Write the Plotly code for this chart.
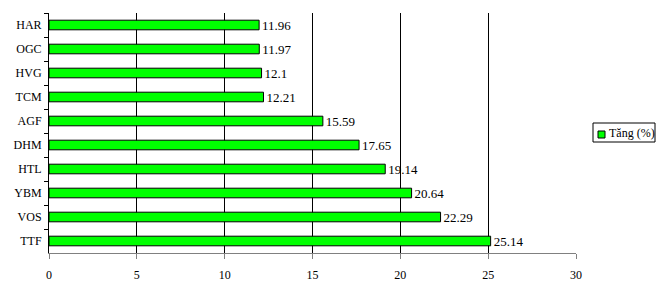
import plotly.graph_objects as go

categories = ["HAR", "OGC", "HVG", "TCM", "AGF", "DHM", "HTL", "YBM", "VOS", "TTF"]
values = [11.96, 11.97, 12.1, 12.21, 15.59, 17.65, 19.14, 20.64, 22.29, 25.14]
labels = ["11.96", "11.97", "12.1", "12.21", "15.59", "17.65", "19.14", "20.64", "22.29", "25.14"]
x_ticks = [0, 5, 10, 15, 20, 25, 30]
series_name = "Tăng (%)"
bar_color = "#00ff00"

L, R, T, B = 49, 84, 13, 30
W, H = 660, 283
pw, ph = W - L - R, H - T - B


def px(x):
    return (x - L) / pw


def py(y):
    return (H - B - y) / ph


fig = go.Figure()
fig.add_trace(go.Bar(
    y=categories, x=values, orientation="h", name=series_name,
    text=labels, textposition="outside", cliponaxis=False, constraintext="none",
    textfont=dict(family="Liberation Serif", size=13, color="black"),
    marker=dict(color=bar_color, line=dict(color="black", width=1)),
    width=0.4, showlegend=False,
))

# legend drawn manually to match compact box
fig.add_shape(type="rect", xref="paper", yref="paper",
              x0=px(593), x1=px(655), y0=py(142), y1=py(123),
              line=dict(color="black", width=1), fillcolor="white")
fig.add_shape(type="rect", xref="paper", yref="paper",
              x0=px(598), x1=px(605), y0=py(138), y1=py(131),
              line=dict(color="black", width=1), fillcolor=bar_color)
fig.add_annotation(xref="paper", yref="paper", x=px(607), y=py(132.5),
                   xanchor="left", yanchor="middle", text=series_name, showarrow=False,
                   font=dict(family="Liberation Serif", size=12, color="black"))

fig.update_layout(
    width=W, height=H,
    margin=dict(l=L, r=R, t=T, b=B, autoexpand=False),
    plot_bgcolor="white", paper_bgcolor="white",
    font=dict(family="Liberation Serif", size=12, color="black"),
    showlegend=False,
    xaxis=dict(range=[0, 30], tickvals=x_ticks, showgrid=True, gridcolor="black", gridwidth=1,
               zeroline=False, showline=True, linecolor="#808080", linewidth=1,
               ticks="outside", ticklen=5, tickcolor="#808080", ticklabelstandoff=6),
    yaxis=dict(autorange="reversed", showline=True, linecolor="black", linewidth=1,
               ticks="outside", ticklen=4, tickcolor="black", tickson="boundaries",
               showgrid=False, ticklabelstandoff=4),
)
fig.write_html("out.html")
